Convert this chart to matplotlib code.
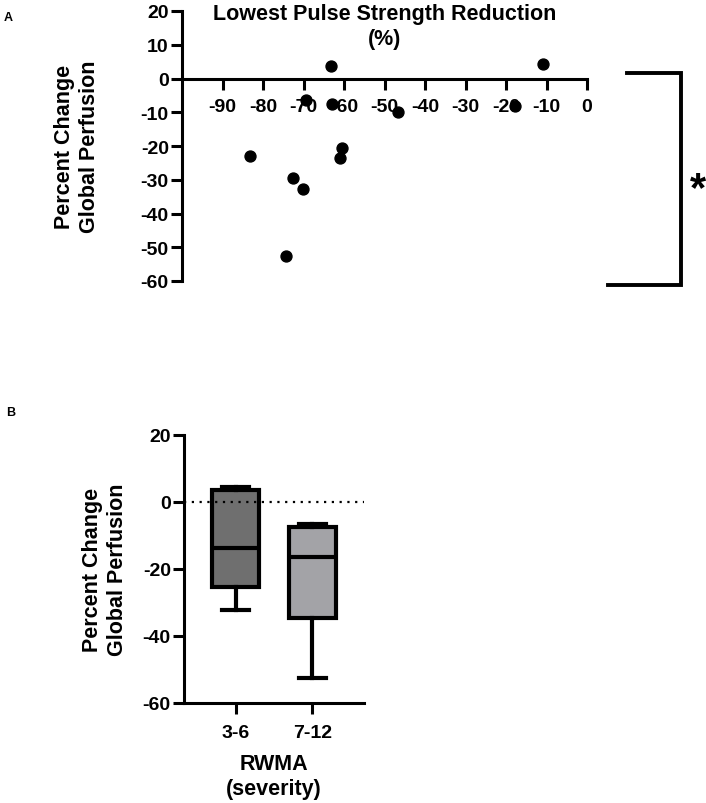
import matplotlib
matplotlib.use("Agg")
import matplotlib.pyplot as plt
from matplotlib.lines import Line2D

plt.rcParams['font.family'] = ['Liberation Sans', 'DejaVu Sans']
plt.rcParams['font.weight'] = 'bold'
plt.rcParams['axes.unicode_minus'] = False

# --- Panel A data: lowest pulse strength reduction vs perfusion change ---
pulse_reduction = [-83.2, -72.7, -70.2, -74.3, -69.5, -63.2, -63.0, -60.6, -61.0, -46.6, -17.9, -10.8]
perfusion_change = [-23.0, -29.6, -32.7, -52.7, -6.5, 3.7, -7.7, -20.6, -23.6, -9.8, -8.1, 4.2]

# --- Panel B data: box summaries per RWMA severity group ---
groups = ['3-6', '7-12']
box_q1 = [-25.4, -34.6]
box_med = [-13.9, -16.4]
box_q3 = [3.5, -7.7]
box_lo = [-32.4, -52.5]
box_hi = [4.3, -6.7]
box_colors = ['#6f6f6f', '#a3a3a7']

W, H = 706, 804
fig = plt.figure(figsize=(W / 100, H / 100), dpi=100)

def frac_box(x0, y0, x1, y1):
    # pixel box (top-left origin) -> figure fraction rect
    return [x0 / W, 1 - y1 / H, (x1 - x0) / W, (y1 - y0) / H]

tick_kw = dict(width=2.2, length=8, labelsize=14, direction='out')
label_fs = 15.5

# ---------------- Panel A ----------------
axA = fig.add_axes(frac_box(182, 12, 587, 282))
axA.scatter(pulse_reduction, perfusion_change, s=62, color='black', zorder=10, clip_on=False)
axA.set_xlim(-100, 0)
axA.set_ylim(-60, 20)
axA.set_xticks(range(-90, 1, 10))
axA.set_yticks(range(-60, 21, 10))
axA.spines['top'].set_visible(False)
axA.spines['right'].set_visible(False)
axA.spines['bottom'].set_position(('data', 0))
for s in ('left', 'bottom'):
    axA.spines[s].set_linewidth(2.2)
axA.tick_params(**tick_kw)
axA.tick_params(axis='x', pad=6)
axA.tick_params(axis='y', pad=1.5)
for lbl in axA.get_xticklabels() + axA.get_yticklabels():
    lbl.set_fontweight('bold')

fig.text(384.5 / W, 1 - 27 / H, 'Lowest Pulse Strength Reduction\n(%)', ha='center', va='center',
         fontsize=label_fs, fontweight='bold', linespacing=1.2)
fig.text(77 / W, 1 - 147 / H, 'Percent Change\nGlobal Perfusion', rotation=90, ha='center', va='center',
         fontsize=label_fs, fontweight='bold', linespacing=1.2)
fig.text(4 / W, 1 - 18 / H, 'A', ha='left', va='center', fontsize=9, fontweight='bold')

# significance bracket
bx = [627 / W, 681 / W, 681 / W, 608 / W]
by = [1 - 74 / H, 1 - 74 / H, 1 - 286 / H, 1 - 286 / H]
fig.add_artist(Line2D(bx, by, color='black', lw=2.8, solid_joinstyle='miter'))
fig.text(698 / W, 1 - 190 / H, '*', ha='center', va='center', fontsize=30, fontweight='bold')

# ---------------- Panel B ----------------
axB = fig.add_axes(frac_box(184, 435.5, 364, 704))
stats = []
for i in range(len(groups)):
    stats.append(dict(label=groups[i], q1=box_q1[i], med=box_med[i], q3=box_q3[i],
                      whislo=box_lo[i], whishi=box_hi[i], fliers=[]))
bp = axB.bxp(stats, positions=[1, 2], widths=0.62, patch_artist=True, showfliers=False,
             capwidths=0.36,
             boxprops=dict(linewidth=3, edgecolor='black'),
             medianprops=dict(color='black', linewidth=3),
             whiskerprops=dict(color='black', linewidth=3),
             capprops=dict(color='black', linewidth=3))
for patch, c in zip(bp['boxes'], box_colors):
    patch.set_facecolor(c)
axB.axhline(0, color='black', ls=(0, (1, 2.5)), lw=1.6, zorder=5)
axB.set_xlim(0.33, 2.67)
axB.set_ylim(-60, 20)
axB.set_yticks(range(-60, 21, 20))
axB.set_xticks([1, 2])
axB.set_xticklabels(groups)
axB.spines['top'].set_visible(False)
axB.spines['right'].set_visible(False)
for s in ('left', 'bottom'):
    axB.spines[s].set_linewidth(2.2)
axB.tick_params(**tick_kw)
axB.tick_params(axis='x', pad=7)
axB.tick_params(axis='y', pad=1.5)
for lbl in axB.get_xticklabels() + axB.get_yticklabels():
    lbl.set_fontweight('bold')

fig.text(274 / W, 1 - 777 / H, 'RWMA\n(severity)', ha='center', va='center',
         fontsize=label_fs, fontweight='bold', linespacing=1.2)
fig.text(105 / W, 1 - 570 / H, 'Percent Change\nGlobal Perfusion', rotation=90, ha='center', va='center',
         fontsize=label_fs, fontweight='bold', linespacing=1.2)
fig.text(6 / W, 1 - 413 / H, 'B', ha='left', va='center', fontsize=9, fontweight='bold')

fig.savefig('out.png', dpi=100)
